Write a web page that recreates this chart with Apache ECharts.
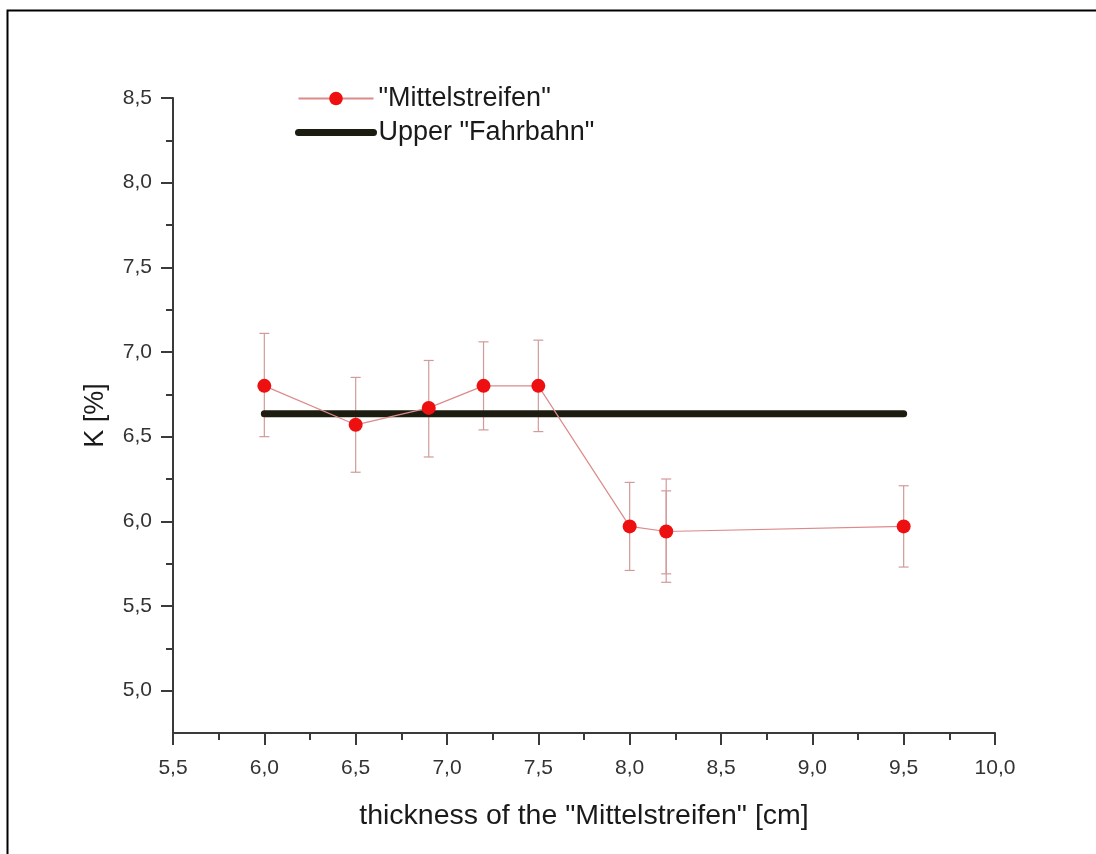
<!DOCTYPE html>
<html>
<head>
<meta charset="utf-8">
<script src="https://cdn.jsdelivr.net/npm/echarts@6/dist/echarts.min.js"></script>
<style>
html,body{margin:0;padding:0;background:#fff;}
#chart{width:1096px;height:854px;}
</style>
</head>
<body>
<div id="chart"></div>
<script>
// Data
var xVals      = [6.0, 6.5, 6.9, 7.2, 7.5, 8.0, 8.2, 9.5];
var kVals      = [6.80, 6.57, 6.67, 6.80, 6.80, 5.97, 5.94, 5.97];
var errUpper   = [7.11, 6.85, 6.95, 7.06, 7.07, 6.23, 6.25, 6.21];
var errLower   = [6.50, 6.29, 6.38, 6.54, 6.53, 5.71, 5.64, 5.73];
// second (overlapping) error bar visible at 8.2
var extraErrX     = [8.2];
var extraErrUpper = [6.18];
var extraErrLower = [5.69];
// Upper "Fahrbahn" reference line
var fahrbahnX = [6.0, 9.5];
var fahrbahnY = [6.635, 6.635];
// Tick values
var yMajorTicks = [5.0, 5.5, 6.0, 6.5, 7.0, 7.5, 8.0, 8.5];
var yMinorTicks = [5.25, 5.75, 6.25, 6.75, 7.25, 7.75, 8.25];
var seriesNames = ['"Mittelstreifen"', 'Upper "Fahrbahn"'];
var xTitle = 'thickness of the "Mittelstreifen" [cm]';
var yTitle = 'K [%]';

var FONT = 'Liberation Sans, Arial, sans-serif';
var mainData = xVals.map(function (x, i) { return [x, kVals[i]]; });
var errData = xVals.map(function (x, i) { return [x, errLower[i], errUpper[i]]; })
  .concat(extraErrX.map(function (x, i) { return [x, extraErrLower[i], extraErrUpper[i]]; }));
var lineData = fahrbahnX.map(function (x, i) { return [x, fahrbahnY[i]]; });

function fmt(v) { return v.toFixed(1).replace('.', ','); }

var chart = echarts.init(document.getElementById('chart'), null, {renderer: 'canvas'});
var option = {
  backgroundColor: '#ffffff',
  animation: false,
  textStyle: {fontFamily: FONT},
  graphic: [{
    type: 'rect', left: 5, top: 8, z: 100, silent: true,
    shape: {x: 0, y: 0, width: 1200, height: 1000},
    style: {fill: 'none', stroke: '#000', lineWidth: 2}
  }],
  grid: {left: 173, right: 101, top: 98, bottom: 121, containLabel: false},
  legend: {
    orient: 'vertical', left: 295, top: 85, padding: 0,
    itemWidth: 75, itemHeight: 17, itemGap: 7,
    textStyle: {fontSize: 27, color: '#1a1a1a', fontFamily: FONT},
    data: [
      {name: seriesNames[0]},
      {name: seriesNames[1], itemStyle: {opacity: 0}, lineStyle: {width: 7, cap: 'round', color: '#1c1c10'}}
    ]
  },
  xAxis: {
    type: 'value', min: 5.5, max: 10, interval: 0.5,
    name: xTitle, nameLocation: 'middle', nameGap: 69,
    nameTextStyle: {fontSize: 28.5, color: '#1a1a1a', fontFamily: FONT},
    axisLine: {show: true, onZero: false, lineStyle: {color: '#3a3a3a', width: 2}},
    axisTick: {show: true, inside: false, length: 12, lineStyle: {color: '#3a3a3a', width: 2}},
    minorTick: {show: true, splitNumber: 2, length: 7, lineStyle: {color: '#3a3a3a', width: 2}},
    axisLabel: {fontSize: 21, color: '#333', margin: 25, formatter: fmt, fontFamily: FONT},
    splitLine: {show: false}, minorSplitLine: {show: false}
  },
  yAxis: [{
    type: 'value', min: 4.75, max: 8.5, position: 'left',
    name: yTitle, nameLocation: 'middle', nameGap: 64, nameRotate: 90,
    nameTextStyle: {fontSize: 27, color: '#1a1a1a', fontFamily: FONT},
    axisLine: {show: true, onZero: false, lineStyle: {color: '#3a3a3a', width: 2}},
    axisTick: {show: true, inside: false, length: 12, customValues: yMajorTicks, lineStyle: {color: '#3a3a3a', width: 2}},
    axisLabel: {fontSize: 21, color: '#333', margin: 21, customValues: yMajorTicks, formatter: fmt, fontFamily: FONT},
    splitLine: {show: false}
  }, {
    type: 'value', min: 4.75, max: 8.5, position: 'left',
    axisLine: {show: false},
    axisTick: {show: true, inside: false, length: 7, customValues: yMinorTicks, lineStyle: {color: '#3a3a3a', width: 2}},
    axisLabel: {show: false},
    splitLine: {show: false}
  }],
  series: [{
    type: 'custom', name: 'err', silent: true, z: 1,
    xAxisIndex: 0, yAxisIndex: 0,
    encode: {x: 0, y: [1, 2]},
    data: errData,
    renderItem: function (params, api) {
      var x = api.value(0);
      var lo = api.coord([x, api.value(1)]);
      var hi = api.coord([x, api.value(2)]);
      var hw = 5;
      var st = {stroke: '#d39a9a', lineWidth: 1.2};
      return {type: 'group', children: [
        {type: 'line', shape: {x1: lo[0], y1: lo[1], x2: hi[0], y2: hi[1]}, style: st},
        {type: 'line', shape: {x1: lo[0] - hw, y1: lo[1], x2: lo[0] + hw, y2: lo[1]}, style: st},
        {type: 'line', shape: {x1: hi[0] - hw, y1: hi[1], x2: hi[0] + hw, y2: hi[1]}, style: st}
      ]};
    }
  }, {
    type: 'line', name: seriesNames[1], z: 2,
    data: lineData, symbol: 'none',
    lineStyle: {color: '#1c1c10', width: 7, cap: 'round'},
    itemStyle: {color: '#1c1c10'}
  }, {
    type: 'line', name: seriesNames[0], z: 3,
    data: mainData, symbol: 'circle', symbolSize: 14,
    lineStyle: {color: '#dc8a8a', width: 1.2},
    itemStyle: {color: '#ee1010'}
  }]
};
chart.setOption(option);
</script>
</body>
</html>
